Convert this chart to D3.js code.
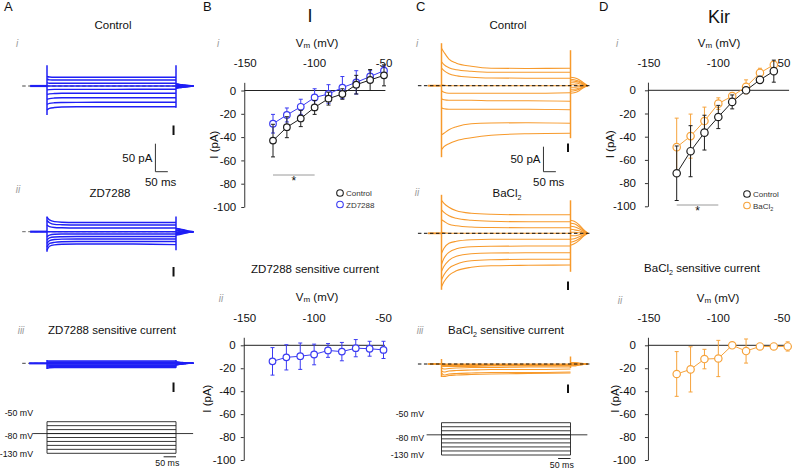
<!DOCTYPE html>
<html>
<head>
<meta charset="utf-8">
<script src="https://cdn.jsdelivr.net/npm/d3@7"></script>
<style>
body { margin: 0; background: #fff; }
svg { font-family: "Liberation Sans", Arial, sans-serif; }
</style>
</head>
<body>
<svg id="fig" width="794" height="469"></svg>
<script>
"use strict";

// ---- I-V data (mV, pA) ----
var ivVolts = [-130, -120, -110, -100, -90, -80, -70, -60, -50];
var ihCtrl = [-43, -31.5, -24, -14.5, -7, -3, 5, 9, 13];
var ihCtrlErr = [14, 9, 7, 6, 5.5, 4.5, 8, 9, 9];
var ihZd = [-28.5, -21, -14, -6, -3, 2.5, 7, 12, 17];
var ihZdErr = [8, 6, 6.5, 7.5, 8, 9.5, 10, 5, 4];
var ihSens = [-14, -10.5, -9.5, -8, -4.5, -5.5, -2.5, -3, -4];
var ihSensErr = [12, 11, 11.5, 9, 6, 8, 7.5, 6.5, 7.5];

var kirVolts = [-130, -120, -110, -100, -90, -80, -70, -60];
var kirCtrl = [-71.5, -52.5, -36.5, -23, -10, 0, 9, 16.5];
var kirCtrlErr = [23.5, 22, 15, 10, 6, 2, 3, 9.5];
var kirBa = [-49, -39.5, -26.5, -11.5, -5, 3, 15, 22];
var kirBaErr = [25, 19, 12, 5, 3, 6, 4, 3];
var kirSens = [-25, -21, -12, -11.5, 0, -5, -1, -1, -1];
var kirSensErr = [19.5, 19.7, 8.5, 15.8, 1, 10.5, 1, 1, 4];

var vmTicks = [-150, -100, -50];
var iTicks = [0, -20, -40, -60, -80, -100];

// ---- current traces (ms, pA) ----
var stepTimes = [0, 10, 30, 60, 120, 200, 350, 520];
var tailTimes = [520, 535, 555, 572, 590];

var ctrlTracesA = [
    [17, 16, 15.5, 15.5, 15.5, 15.5, 15.5, 15.5],
    [12, 11, 10.7, 10.7, 10.7, 10.7, 10.7, 10.7],
    [6, 5, 4.8, 4.8, 4.8, 4.8, 4.8, 4.8],
    [0, 0, 0, 0, 0, 0, 0, 0],
    [-7, -6.5, -6, -6, -6, -6, -5.9, -5.9],
    [-15, -14, -13.5, -13, -13, -13, -13, -13],
    [-24, -22.5, -21.5, -21, -21, -21, -21, -21],
    [-33, -31, -30, -29.5, -29.2, -29.1, -29.1, -29.1],
    [-43, -40, -38.5, -37.5, -37, -37, -37, -37]
];
var ctrlTailsA = [[4, 3, 2, 1, 0], [3, 2, 1, 0, 0], [2, 1, 1, 0, 0], [0, 0, 0, 0, 0], [-1, -1, 0, 0, 0],
    [-2, -2, -1, 0, 0], [-3, -2, -1, 0, 0], [-4, -3, -2, -1, 0], [-4, -3, -2, -1, 0]];

var zdTracesA = [
    [26, 21, 18, 17, 16.5, 16.4, 16.4, 16.4],
    [20, 16, 13, 12.5, 12, 12, 12, 12],
    [12, 9, 7.5, 7, 6.6, 6.6, 6.6, 6.6],
    [0, 0, 0, 0, 0, 0, 0, 0],
    [-9, -6, -4.5, -4.2, -4.1, -4.1, -4.1, -4.1],
    [-15, -11, -9.5, -9, -8.6, -8.6, -8.6, -8.6],
    [-21, -16, -14, -13.3, -13, -13, -13, -13],
    [-27, -21, -19, -18, -17.5, -17.5, -17.5, -17.5],
    [-33, -26, -23.5, -22.5, -22, -22, -22, -23]
];
var zdTailsA = [[6, 5, 3, 1, 0], [5, 4, 2, 1, 0], [3, 2, 1, 0, 0], [1, 1, 0, 0, 0], [-1, -1, 0, 0, 0],
    [-2, -2, -1, 0, 0], [-3, -3, -2, -1, 0], [-5, -4, -2, -1, 0], [-6, -5, -3, -1, 0]];

var zdSensTracesA = [
    [4, 4, 4, 4, 4, 4, 4, 4],
    [2.5, 2.5, 2.5, 2.5, 2.5, 2.5, 2.5, 2.5],
    [1, 1, 1, 1, 1, 1, 1, 1],
    [0, 0, 0, 0, 0, 0, 0, 0],
    [-1.5, -1.5, -1.5, -1.5, -1.5, -1.5, -1.5, -1.5],
    [-3, -3, -3, -3, -3, -3, -3, -3],
    [-5, -4.5, -4.5, -4.5, -4.5, -4.5, -4.5, -4.5],
    [-7, -6, -6, -6, -6, -6, -6, -6],
    [-9, -8, -7.5, -7.5, -7.5, -7.5, -7.5, -7.5]
];
var zdSensTailsA = [[3, 2, 1, 0, 0], [2, 1, 1, 0, 0], [1, 0, 0, 0, 0], [0, 0, 0, 0, 0], [0, 0, 0, 0, 0],
    [-1, -1, 0, 0, 0], [-2, -1, 0, 0, 0], [-3, -2, -1, 0, 0], [-3, -2, -1, 0, 0]];

var ctrlTracesC = [
    [75, 67, 53, 45, 39, 35, 34.5, 34.8],
    [48, 42, 36, 32, 29, 27, 27, 27],
    [35, 30, 24, 20, 17, 15.5, 15, 15],
    [2, 1, 0, 0, 0, 0, 0, 0],
    [-10, -13, -15, -15, -15, -15, -15, -14],
    [-26, -28, -29, -29, -29, -30, -30, -31],
    [-44, -46, -47, -47, -47, -47, -47, -48],
    [-98, -95, -88, -82, -76, -74.5, -74, -75],
    [-128, -122, -116, -110, -104, -99, -96, -95]
];
var ctrlTailsC = [[17, 16, 12, 6, 0], [13, 12, 9, 4, 0], [10, 9, 7, 3, 0], [6, 6, 4, 2, 0], [2, 2, 1, 1, 0],
    [-3, -3, -2, -1, 0], [-7, -7, -5, -2, 0], [-11, -10, -7, -3, 0], [-15, -14, -10, -4, 0]];

var baTracesC = [
    [66, 60, 52, 45, 40, 38, 37, 37],
    [47, 42, 35, 30, 26, 24, 23, 23],
    [27, 24, 18, 15, 12.5, 11.5, 11, 11],
    [2, 1, 0, 0, 0, 0, 0, 0],
    [-40, -30, -20, -16, -13, -12, -12, -12],
    [-62, -50, -38, -31, -27, -26, -25.5, -25.5],
    [-76, -66, -54, -46, -41, -39.5, -39, -39],
    [-93, -83, -70, -62, -55, -53, -52, -52],
    [-107, -97, -84, -75, -68, -65, -64, -63.5]
];
var baTailsC = [[26, 24, 17, 8, 0], [20, 19, 13, 6, 0], [14, 13, 9, 4, 0], [8, 7, 5, 2, 0], [2, 2, 1, 1, 0],
    [-5, -5, -3, -1, 0], [-12, -11, -7, -3, 0], [-18, -16, -11, -5, 0], [-24, -21, -14, -6, 0]];

var baSensTracesC = [
    [1, 0, 0, 0, 0, 0, 0, 0],
    [0, -1, -1, -1, -1, -1, -1, -1],
    [-1, -2, -2, -2, -2, -2, -2, -2],
    [-2, -3, -3, -3, -3, -3, -3, -3],
    [-4, -5, -5, -5, -5, -4, -4, -4],
    [-8, -10, -9, -8, -7, -7, -6, -6],
    [-14, -16, -14, -13, -12, -11, -11, -10],
    [-18, -22, -20, -19, -18, -17, -17, -16],
    [-24, -25, -23, -22, -21, -20, -19, -18]
];
var baSensTailsC = [[3, 3, 2, 1, 0], [2, 2, 1, 0, 0], [1, 1, 0, 0, 0], [0, 0, 0, 0, 0], [0, 0, 0, 0, 0],
    [-1, -1, 0, 0, 0], [-2, -2, -1, 0, 0], [-3, -3, -2, -1, 0], [-4, -4, -2, -1, 0]];

// capacitive transients [high, low] at step on / step off
var spikesA = { ctrl: [[37, -52], [37, -39]], zd: [[27, -36], [27, -33]], sens: [[6, -10], [6, -8]] };
var spikesC = { ctrl: [[85, -143], [71, -105]], ba: [[77, -113], [66, -77]], sens: [[10, -26], [15, -8]] };

// voltage protocol (mV)
var protoLevels = [-130, -120, -110, -100, -90, -80, -70, -60, -50];
var protoHold = -80;
var protoLabels = ['-50 mV', '-80 mV', '-130 mV'];
var protoLabelVolts = [-50, -80, -130];

var BLUE = '#1f1ff5', BLUE_IV = '#3b3bf2', ORANGE = '#f79a2c', ORANGE_IV = '#f6a33c', DARK = '#1e1e1e';

var svg = d3.select('#fig');

function txt(x, y, s, size, anchor) {
    return svg.append('text').attr('x', x).attr('y', y).attr('font-size', size)
        .attr('text-anchor', anchor || 'middle').attr('fill', '#111').text(s);
}

function roman(x, y, s) {
    txt(x, y, s, 10, 'middle').attr('font-style', 'italic').attr('fill', '#9a9a9a');
}

function baCl(x, y, size, rest) {
    var t = txt(x, y, '', size, 'middle');
    t.append('tspan').text('BaCl');
    t.append('tspan').attr('font-size', size * 0.62).attr('dy', 3).text('2');
    if (rest) t.append('tspan').attr('dy', -3).text(rest);
    return t;
}

function vmLabel(x, y) {
    var t = txt(x, y, '', 11.5, 'middle');
    t.append('tspan').text('V');
    t.append('tspan').attr('font-size', 8).attr('dy', 1).text('m');
    t.append('tspan').attr('dy', -1).text(' (mV)');
}

// panel letters and headings
txt(4, 11, 'A', 13, 'start');
txt(203, 11, 'B', 13, 'start');
txt(416, 11, 'C', 13, 'start');
txt(599, 11, 'D', 13, 'start');
txt(310, 22, 'I', 18);
txt(719, 23, 'Kir', 18);

// ---------- traces ----------
function tracePanel(cfg) {
    var g = svg.append('g');
    var x = d3.scaleLinear().domain([0, 520]).range([cfg.x0, cfg.x0 + 129]);
    var y = d3.scaleLinear().domain([0, 50]).range([cfg.base, cfg.base - cfg.pa50]);
    var lineS = d3.line().x(d => x(d[0])).y(d => y(d[1])).curve(d3.curveMonotoneX);

    var dash = function () {
        g.append('line').attr('x1', x(cfg.dash[0])).attr('x2', x(cfg.dash[1]))
            .attr('y1', y(0)).attr('y2', y(0))
            .attr('stroke', cfg.dashColor).attr('stroke-width', 1).attr('stroke-dasharray', '3.5,2.5');
    };
    if (!cfg.dashOnTop) dash();

    var tg = g.append('g').attr('fill', 'none').attr('stroke', cfg.color)
        .attr('stroke-width', cfg.sw).attr('stroke-linejoin', 'round');

    // pre-step baseline
    tg.append('line').attr('x1', x(cfg.pre)).attr('x2', x(0)).attr('y1', y(0)).attr('y2', y(0))
        .attr('stroke-width', cfg.sw + 0.8);

    cfg.traces.forEach(function (tr, i) {
        tg.append('path').attr('d', lineS(stepTimes.map((t, j) => [t, tr[j]])));
        tg.append('path').attr('d', lineS(tailTimes.map((t, j) => [t, cfg.tails[i][j]])));
    });

    // capacitive transients
    [0, 520].forEach(function (t, k) {
        tg.append('line').attr('x1', x(t)).attr('x2', x(t))
            .attr('y1', y(cfg.spikes[k][0])).attr('y2', y(cfg.spikes[k][1]))
            .attr('stroke-width', 1.5);
    });

    if (cfg.dashOnTop) dash();

    // small scale mark
    g.append('line').attr('x1', x(510)).attr('x2', x(510))
        .attr('y1', cfg.markBottom).attr('y2', cfg.markBottom - (y(0) - y(17)))
        .attr('stroke', '#111').attr('stroke-width', 2);

    if (cfg.scaleBar) {
        var sx = x(cfg.scaleBar[0]), sy = cfg.scaleBar[1];
        var h = y(0) - y(50), w = x(50) - x(0);
        g.append('path').attr('d', `M${sx},${sy - h}V${sy}H${sx + w}`)
            .attr('fill', 'none').attr('stroke', '#333').attr('stroke-width', 1);
        txt(sx - 3, sy - h / 2 + 4, '50 pA', 11.5, 'end');
        txt(sx + w / 2 - 1, sy + 14, '50 ms', 11.5, 'middle');
    }
    return x;
}

function protocol(cfg) {
    var g = svg.append('g');
    var x = d3.scaleLinear().domain([0, 520]).range([cfg.x0, cfg.x0 + 129]);
    var y = d3.scaleLinear().domain([-130, -50]).range([cfg.bottom, cfg.top]);
    g.selectAll('line.lv').data(protoLevels).enter().append('line')
        .attr('x1', x(0)).attr('x2', x(520)).attr('y1', d => y(d)).attr('y2', d => y(d))
        .attr('stroke', '#222').attr('stroke-width', 0.9);
    [0, 520].forEach(t => g.append('line').attr('x1', x(t)).attr('x2', x(t))
        .attr('y1', y(-130)).attr('y2', y(-50)).attr('stroke', '#222').attr('stroke-width', 0.9));
    g.append('line').attr('x1', x(cfg.hold[0])).attr('x2', x(cfg.hold[1]))
        .attr('y1', y(protoHold)).attr('y2', y(protoHold)).attr('stroke', '#222').attr('stroke-width', 0.9);
    var offs = [-8.5, 2.5, 0];
    protoLabels.forEach(function (s, i) {
        txt(cfg.labelX, y(protoLabelVolts[i]) + offs[i] + 3.2, s, 8.8, 'end');
    });
    g.append('line').attr('x1', x(470)).attr('x2', x(520)).attr('y1', cfg.bottom + 3.5).attr('y2', cfg.bottom + 3.5)
        .attr('stroke', '#222').attr('stroke-width', 1);
    txt(x(485), cfg.bottom + 13, '50 ms', 8.8, 'middle');
}

// Panel A
roman(17, 47, 'i'); txt(113, 29, 'Control', 11.5);
tracePanel({ x0: 47, base: 86, pa50: 28, traces: ctrlTracesA, tails: ctrlTailsA, spikes: spikesA.ctrl,
    color: BLUE, sw: 1.4, pre: -68, dash: [-100, 590], dashColor: '#444', dashOnTop: false,
    markBottom: 135, scaleBar: [437, 171.7] });
roman(18, 192.5, 'ii'); txt(110, 197, 'ZD7288', 11.5);
tracePanel({ x0: 47, base: 231.7, pa50: 28, traces: zdTracesA, tails: zdTailsA, spikes: spikesA.zd,
    color: BLUE, sw: 1.4, pre: -68, dash: [-100, 590], dashColor: '#666', dashOnTop: false,
    markBottom: 276.5 });
roman(21, 334, 'iii'); txt(112, 334, 'ZD7288 sensitive current', 11.5);
tracePanel({ x0: 47, base: 363.3, pa50: 28, traces: zdSensTracesA, tails: zdSensTailsA, spikes: spikesA.sens,
    color: BLUE, sw: 1.4, pre: -72, dash: [-100, 590], dashColor: '#444', dashOnTop: false,
    markBottom: 392 });
protocol({ x0: 47, top: 421.7, bottom: 453.3, hold: [-56, 589], labelX: 33 });

// Panel C
roman(417, 47, 'i'); txt(508, 29, 'Control', 11.5);
tracePanel({ x0: 441.5, base: 85.7, pa50: 25, traces: ctrlTracesC, tails: ctrlTailsC, spikes: spikesC.ctrl,
    color: ORANGE, sw: 1.1, pre: -55, dash: [-95, 600], dashColor: '#111', dashOnTop: true,
    markBottom: 152, scaleBar: [411, 171.7] });
roman(417, 196, 'ii'); baCl(507, 197, 11.5);
tracePanel({ x0: 441.5, base: 233.3, pa50: 25, traces: baTracesC, tails: baTailsC, spikes: spikesC.ba,
    color: ORANGE, sw: 1.1, pre: -55, dash: [-95, 600], dashColor: '#111', dashOnTop: true,
    markBottom: 290 });
roman(420, 334, 'iii'); baCl(506, 334, 11.5, ' sensitive current');
tracePanel({ x0: 441.5, base: 364, pa50: 25, traces: baSensTracesC, tails: baSensTailsC, spikes: spikesC.sens,
    color: ORANGE, sw: 1.1, pre: -55, dash: [-95, 600], dashColor: '#111', dashOnTop: true,
    markBottom: 393 });
protocol({ x0: 441.5, top: 422.7, bottom: 455, hold: [-60, 588], labelX: 424 });

// ---------- I-V plots ----------
function ivPanel(cfg) {
    var g = svg.append('g');
    var x = d3.scaleLinear().domain([-130, -50]).range([cfg.x130, cfg.x130 + 111]);
    var k = cfg.h / 100;
    var y = d3.scaleLinear().domain([7, -100]).range([cfg.y0 - 7 * k, cfg.y0 + cfg.h]);
    var ax = x(-150) - 1;

    var yAxis = d3.axisLeft(y).tickValues(iTicks).tickSize(3).tickSizeOuter(0)
        .tickPadding(cfg.pad).tickFormat(d => String(d));
    var ga = g.append('g').attr('transform', `translate(${ax},0)`).call(yAxis);
    ga.selectAll('text').attr('font-size', 11.5).attr('fill', '#111').attr('font-family', null);
    ga.selectAll('line,path').attr('stroke', '#333');

    g.append('line').attr('x1', ax).attr('x2', x(-49)).attr('y1', y(0)).attr('y2', y(0))
        .attr('stroke', '#222').attr('stroke-width', 1);

    // keep the last Vm label inside the picture
    g.selectAll('text.vt').data(vmTicks).enter().append('text')
        .attr('x', d => Math.min(x(d), 793 - 11)).attr('y', cfg.tickY).attr('text-anchor', 'middle')
        .attr('font-size', 11.5).attr('fill', '#111').text(d => String(d));

    var ylab = (cfg.y0 - 7 * k + cfg.y0 + cfg.h) / 2;
    txt(0, 0, 'I (pA)', 11.5, 'middle').attr('transform', `translate(${ax - cfg.labOff + 4},${ylab}) rotate(-90)`);

    var line = d3.line().x(d => x(d[0])).y(d => y(d[1]));
    cfg.series.forEach(function (s) {
        var pts = s.v.map((v, i) => [v, s.i[i], s.e[i]]);
        var sg = g.append('g');
        sg.selectAll('path.eb').data(pts).enter().append('path')
            .attr('d', d => `M${x(d[0])},${y(d[1] + d[2])}V${y(d[1] - d[2])}` +
                `M${x(d[0]) - 2},${y(d[1] + d[2])}h4M${x(d[0]) - 2},${y(d[1] - d[2])}h4`)
            .attr('stroke', s.c).attr('stroke-width', 1).attr('fill', 'none');
        sg.append('path').attr('d', line(pts)).attr('stroke', s.c).attr('stroke-width', 1).attr('fill', 'none');
        sg.selectAll('circle').data(pts).enter().append('circle')
            .attr('cx', d => x(d[0])).attr('cy', d => y(d[1])).attr('r', cfg.r)
            .attr('fill', '#fff').attr('stroke', s.c).attr('stroke-width', 1.2);
    });

    if (cfg.star) {
        g.append('line').attr('x1', x(-130)).attr('x2', x(-100)).attr('y1', cfg.star).attr('y2', cfg.star)
            .attr('stroke', '#9a9a9a').attr('stroke-width', 1);
        txt(x(-115), cfg.star + 10, '*', 12, 'middle');
    }
    if (cfg.legend) {
        cfg.legend.forEach(function (l, i) {
            var ly = cfg.legendY + i * 11.5;
            g.append('circle').attr('cx', cfg.legendX).attr('cy', ly).attr('r', 3.3)
                .attr('fill', '#fff').attr('stroke', l.c).attr('stroke-width', 1.1);
            if (l.sub) {
                var t = txt(cfg.legendX + 6, ly + 3, '', 8, 'start').attr('fill', '#333');
                t.append('tspan').text(l.name);
                t.append('tspan').attr('font-size', 5.5).attr('dy', 2).text(l.sub);
            } else {
                txt(cfg.legendX + 6, ly + 3, l.name, 8, 'start').attr('fill', '#333');
            }
        });
    }
}

// B i
roman(218, 47, 'i'); vmLabel(317, 47);
ivPanel({ x130: 273, y0: 90.5, h: 116.5, tickY: 67, pad: 5, r: 3.3, labOff: 30,
    series: [{ v: ivVolts, i: ihZd, e: ihZdErr, c: BLUE_IV }, { v: ivVolts, i: ihCtrl, e: ihCtrlErr, c: DARK }],
    star: 175, legend: [{ name: 'Control', c: DARK }, { name: 'ZD7288', c: BLUE_IV }], legendX: 340, legendY: 193 });

// B ii
txt(315, 273, 'ZD7288 sensitive current', 11.5);
roman(221, 302, 'ii'); vmLabel(317, 301);
ivPanel({ x130: 272.5, y0: 345.3, h: 114.7, tickY: 322, pad: 5, r: 3.3, labOff: 37,
    series: [{ v: ivVolts, i: ihSens, e: ihSensErr, c: BLUE_IV }] });

// D i
roman(617, 47, 'i'); vmLabel(719, 47);
ivPanel({ x130: 676.7, y0: 90.3, h: 116, tickY: 67, pad: 9, r: 3.7, labOff: 38,
    series: [{ v: kirVolts, i: kirBa, e: kirBaErr, c: ORANGE_IV }, { v: kirVolts, i: kirCtrl, e: kirCtrlErr, c: DARK }],
    star: 205, legend: [{ name: 'Control', c: DARK }, { name: 'BaCl', sub: '2', c: ORANGE_IV }], legendX: 747, legendY: 194 });

// D ii
baCl(702, 272, 11.5, ' sensitive current');
roman(620, 304, 'ii'); vmLabel(718, 302);
ivPanel({ x130: 676.7, y0: 345.3, h: 114.7, tickY: 322, pad: 9, r: 3.7, labOff: 33,
    series: [{ v: ivVolts, i: kirSens, e: kirSensErr, c: ORANGE_IV }] });
</script>
</body>
</html>
